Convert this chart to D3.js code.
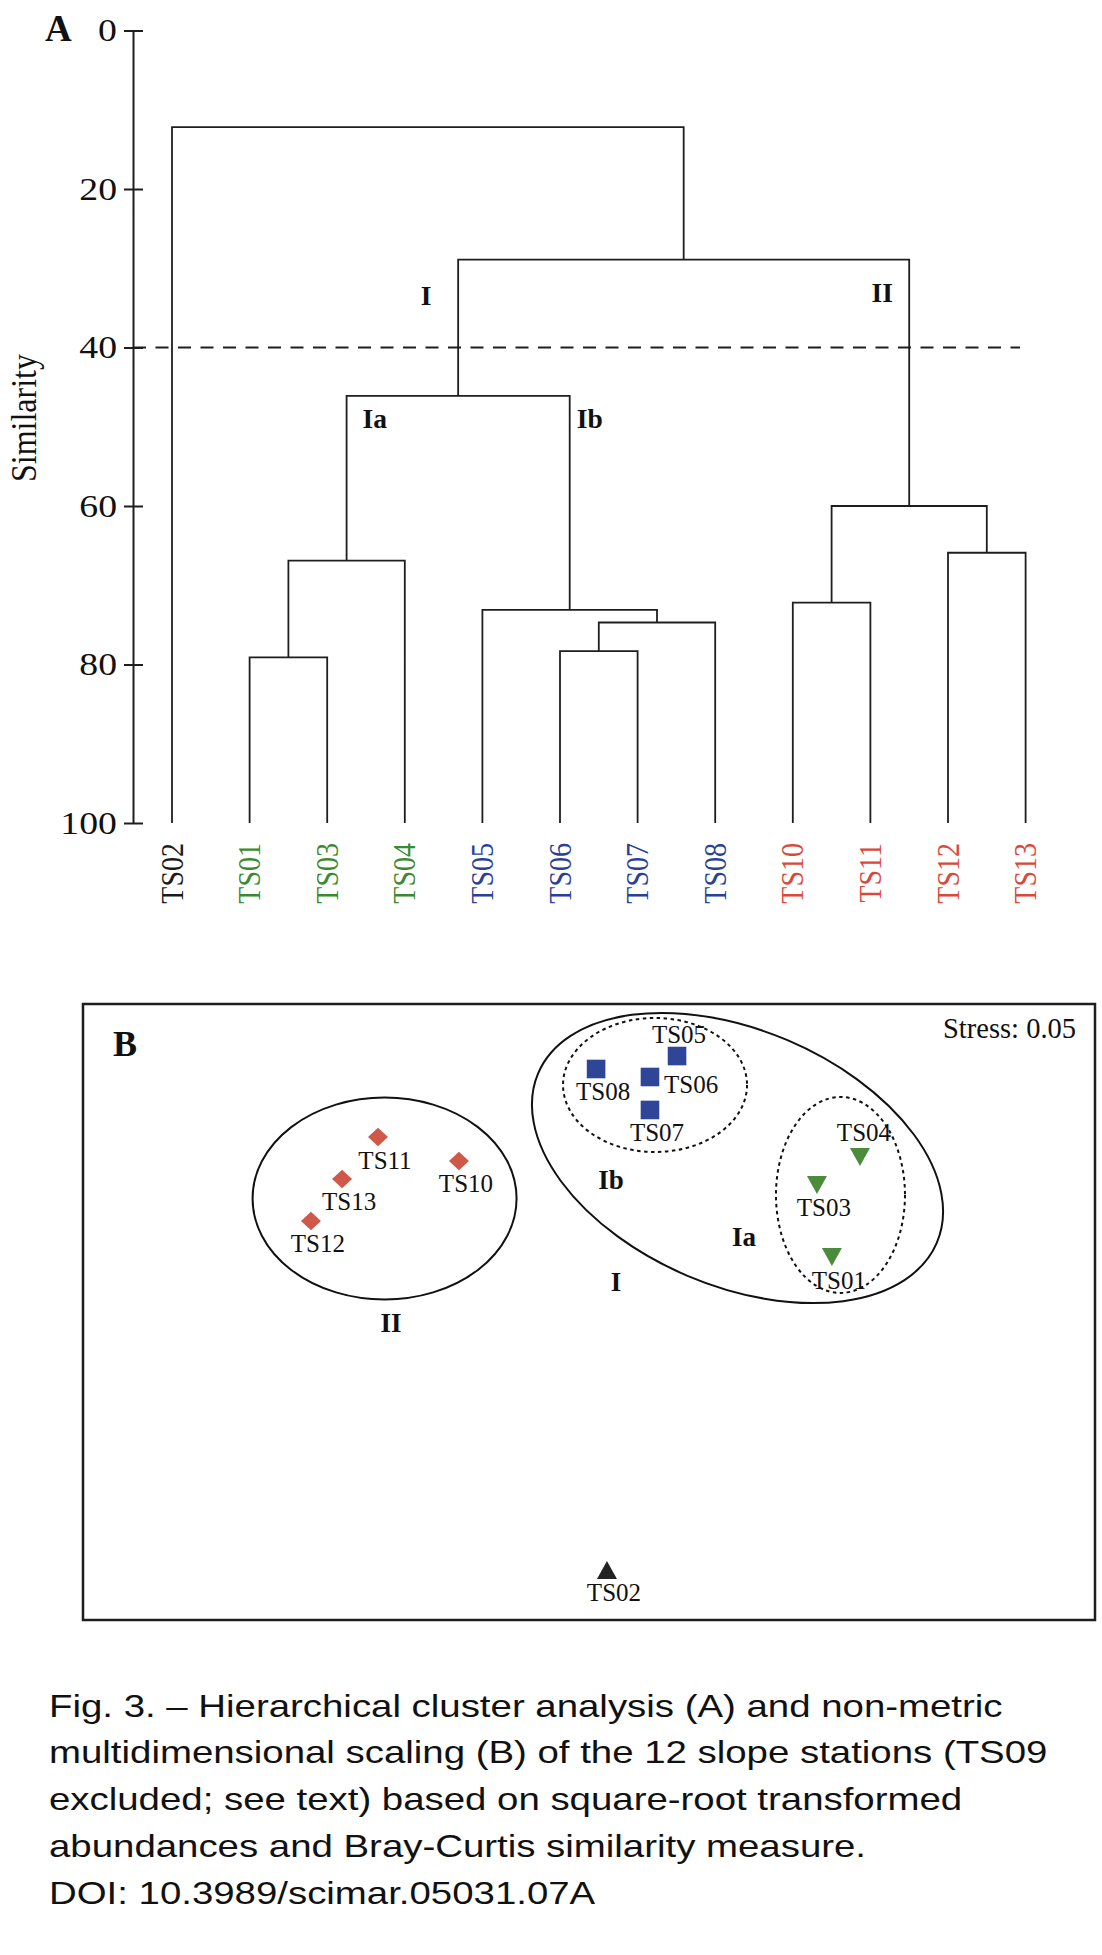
<!DOCTYPE html>
<html>
<head>
<meta charset="utf-8">
<script src="https://cdn.jsdelivr.net/npm/d3@7"></script>
<style>
  html, body { margin: 0; padding: 0; background: #fff; }
  svg { display: block; }
</style>
</head>
<body>
<svg id="chart" width="1102" height="1955"></svg>
<script>
// ---------------- DATA ----------------
// Panel A: dendrogram
const leaves = ["TS02","TS01","TS03","TS04","TS05","TS06","TS07","TS08","TS10","TS11","TS12","TS13"];
const leafGroup = ["out","Ia","Ia","Ia","Ib","Ib","Ib","Ib","II","II","II","II"];
// merges: [id, left child, right child, similarity level]
const mergeIds    = ["m1","m2","m3","m4","m5","m6","m7","m8","m9","m10","m11"];
const mergeLeft   = ["TS01","m1","TS06","m3","TS05","m2","TS10","TS12","m7","m6","TS02"];
const mergeRight  = ["TS03","TS04","TS07","TS08","m4","m5","TS11","TS13","m8","m9","m10"];
const mergeLevel  = [79.1, 66.9, 78.3, 74.7, 73.1, 46.1, 72.2, 65.9, 60.0, 28.9, 12.2];
const yTicks = [0, 20, 40, 60, 80, 100];
const cutLevel = 40;
const axisTitle = "Similarity";

// Panel B: nMDS ordination
const mdsStations = ["TS05","TS08","TS06","TS07","TS04","TS03","TS01","TS11","TS10","TS13","TS12","TS02"];
const mdsGroup    = ["Ib","Ib","Ib","Ib","Ia","Ia","Ia","II","II","II","II","out"];
const mdsX = [0.348, 0.028, 0.241, 0.241, 1.071, 0.901, 0.960, -0.834, -0.514, -0.976, -1.099, 0.071];
const mdsY = [1.662, 1.578, 1.526, 1.312, 1.006, 0.825, 0.357, 1.136, 0.981, 0.864, 0.591, -1.675];
const stressValue = "Stress: 0.05";

const captionLines = [
  "Fig. 3. \u2013 Hierarchical cluster analysis (A) and non-metric",
  "multidimensional scaling (B) of the 12 slope stations (TS09",
  "excluded; see text) based on square-root transformed",
  "abundances and Bray-Curtis similarity measure.",
  "DOI: 10.3989/scimar.05031.07A"
];

// ---------------- STYLE ----------------
const serif = "'Liberation Serif','Times New Roman',Times,serif";
const sans = "'Liberation Sans',Arial,Helvetica,sans-serif";
const groupText = { out: "#1a1a1a", Ia: "#3b8a2f", Ib: "#2a3f98", II: "#d8493b" };
const groupFill = { out: "#222222", Ia: "#4a8c3c", Ib: "#2f4597", II: "#d0584a" };
const ink = "#1e1e1e";

const svg = d3.select("#chart");

// ================= PANEL A =================
const x = d3.scalePoint().domain(leaves).range([172, 1025.6]).padding(0);
const y = d3.scaleLinear().domain([0, 100]).range([30.5, 823]);

const gA = svg.append("g");

// axis
const axis = d3.axisLeft(y).tickValues(yTicks).tickSizeOuter(0).tickSizeInner(9).tickFormat(d3.format("d"));
const ax = gA.append("g").attr("transform", "translate(133,0)").call(axis);
ax.select(".domain").attr("stroke", ink).attr("stroke-width", 2);
ax.selectAll(".tick line").attr("x1", -9).attr("x2", 10).attr("stroke", ink).attr("stroke-width", 2);
ax.selectAll(".tick text").remove();
// tick labels (slightly wide serif numerals)
gA.selectAll("text.ytick").data(yTicks).join("text")
  .attr("class", "ytick")
  .attr("transform", d => `translate(117,${y(d)}) scale(1.18,1)`)
  .attr("dy", "0.34em")
  .attr("text-anchor", "end")
  .attr("font-family", serif).attr("font-size", 32).attr("fill", "#111")
  .text(d => d);

// axis title
gA.append("text")
  .attr("transform", `translate(36,418) scale(1.1,1) rotate(-90)`)
  .attr("text-anchor", "middle")
  .attr("font-family", serif).attr("font-size", 32).attr("fill", "#111")
  .text(axisTitle);

// panel letter
gA.append("text").attr("x", 45).attr("y", 41)
  .attr("font-family", serif).attr("font-weight", "bold").attr("font-size", 37).attr("fill", "#111")
  .text("A");

// nodes
const nodes = {};
leaves.forEach(l => { nodes[l] = { x: x(l), y: y(100) }; });
mergeIds.forEach((id, i) => {
  const a = nodes[mergeLeft[i]], b = nodes[mergeRight[i]];
  nodes[id] = { x: (a.x + b.x) / 2, y: y(mergeLevel[i]) };
});

// dashed cut line
gA.append("line")
  .attr("x1", 133).attr("x2", 1020).attr("y1", y(cutLevel)).attr("y2", y(cutLevel))
  .attr("stroke", ink).attr("stroke-width", 2).attr("stroke-dasharray", "13,9.5");

// branches
gA.selectAll("path.branch").data(mergeIds).join("path")
  .attr("class", "branch")
  .attr("fill", "none").attr("stroke", ink).attr("stroke-width", 1.8)
  .attr("d", (id, i) => {
    const a = nodes[mergeLeft[i]], b = nodes[mergeRight[i]], n = nodes[id];
    return `M${a.x},${a.y}V${n.y}H${b.x}V${b.y}`;
  });

// leaf labels (rotated)
gA.selectAll("text.leaf").data(leaves).join("text")
  .attr("class", "leaf")
  .attr("transform", d => `translate(${x(d)},843) scale(1.15,1) rotate(-90)`)
  .attr("dy", "0.33em")
  .attr("text-anchor", "end")
  .attr("font-family", serif).attr("font-size", 28)
  .attr("fill", (d, i) => groupText[leafGroup[i]])
  .text(d => d);

// cluster labels
const clusterLabelsA = [
  { t: "I",  x: nodes.m6.x - 32, lvl: 34.7, anchor: "middle" },
  { t: "II", x: nodes.m9.x - 27, lvl: 34.2, anchor: "middle" },
  { t: "Ia", x: nodes.m2.x + 16, lvl: 50.1, anchor: "start" },
  { t: "Ib", x: nodes.m5.x + 7,  lvl: 50.1, anchor: "start" }
];
gA.selectAll("text.clA").data(clusterLabelsA).join("text")
  .attr("class", "clA")
  .attr("x", d => d.x).attr("y", d => y(d.lvl))
  .attr("text-anchor", d => d.anchor)
  .attr("font-family", serif).attr("font-weight", "bold").attr("font-size", 27.5).attr("fill", "#111")
  .text(d => d.t);

// ================= PANEL B =================
const xB = d3.scaleLinear().domain([-2, 2]).range([83, 1095]);
const yB = d3.scaleLinear().domain([-2, 2]).range([1620, 1004]);
const gB = svg.append("g");

gB.append("rect")
  .attr("x", xB(-2)).attr("y", yB(2))
  .attr("width", xB(2) - xB(-2)).attr("height", yB(-2) - yB(2))
  .attr("fill", "none").attr("stroke", ink).attr("stroke-width", 2.5);

gB.append("text").attr("x", 113).attr("y", 1056)
  .attr("font-family", serif).attr("font-weight", "bold").attr("font-size", 36).attr("fill", "#111")
  .text("B");

gB.append("text").attr("x", 943).attr("y", 1038)
  .attr("font-family", serif).attr("font-size", 28.5).attr("fill", "#111")
  .text(stressValue);

// grouping ellipses (centre in MDS units, radii in px)
const hulls = [
  { cx: -0.808, cy: 0.737, rx: 132, ry: 101, rot: 0,  dash: null },
  { cx: 0.587,  cy: 1.000, rx: 216.6, ry: 128, rot: 23, dash: null },
  { cx: 0.261,  cy: 1.474, rx: 92,  ry: 67,  rot: 0,  dash: "3.5,3.5" },
  { cx: 0.994,  cy: 0.760, rx: 64.5, ry: 98, rot: 0,  dash: "3.5,3.5" }
];
gB.selectAll("ellipse.hull").data(hulls).join("ellipse")
  .attr("class", "hull")
  .attr("cx", 0).attr("cy", 0).attr("rx", d => d.rx).attr("ry", d => d.ry)
  .attr("transform", d => `translate(${xB(d.cx)},${yB(d.cy)}) rotate(${d.rot})`)
  .attr("fill", "none").attr("stroke", "#111").attr("stroke-width", 2)
  .attr("stroke-dasharray", d => d.dash);

// marker shapes
function markerPath(g) {
  if (g === "Ib") { const s = 9.3; return `M${-s},${-s}H${s}V${s}H${-s}Z`; }
  if (g === "II") { return "M0,-9.2L10,0L0,9.2L-10,0Z"; }
  if (g === "Ia") { return "M-10,-9H10L0,9Z"; }
  return "M0,-9L10,9H-10Z";
}
gB.selectAll("path.pt").data(mdsStations).join("path")
  .attr("class", "pt")
  .attr("transform", (d, i) => `translate(${xB(mdsX[i])},${yB(mdsY[i])})`)
  .attr("d", (d, i) => markerPath(mdsGroup[i]))
  .attr("fill", (d, i) => groupFill[mdsGroup[i]]);

// point labels: placement
const place = { TS05: [2, -13, "middle"], TS06: [14, 16, "start"], TS04: [4, -16, "middle"] };
gB.selectAll("text.ptl").data(mdsStations).join("text")
  .attr("class", "ptl")
  .attr("x", (d, i) => xB(mdsX[i]) + (place[d] ? place[d][0] : 7))
  .attr("y", (d, i) => yB(mdsY[i]) + (place[d] ? place[d][1] : 31.5))
  .attr("text-anchor", d => place[d] ? place[d][2] : "middle")
  .attr("font-family", serif).attr("font-size", 25).attr("fill", "#111")
  .text(d => d);

const clusterLabelsB = [
  { t: "Ib", x: 611, y: 1189 },
  { t: "Ia", x: 744, y: 1246 },
  { t: "I",  x: 616, y: 1291 },
  { t: "II", x: 391, y: 1332 }
];
gB.selectAll("text.clB").data(clusterLabelsB).join("text")
  .attr("class", "clB")
  .attr("x", d => d.x).attr("y", d => d.y)
  .attr("text-anchor", "middle")
  .attr("font-family", serif).attr("font-weight", "bold").attr("font-size", 27).attr("fill", "#111")
  .text(d => d.t);

// ================= CAPTION =================
svg.append("g").selectAll("text").data(captionLines).join("text")
  .attr("transform", (d, i) => `translate(49,${1716.7 + i * 46.7}) scale(1.2,1)`)
  .attr("font-family", sans).attr("font-size", 32).attr("fill", "#111")
  .text(d => d);
</script>
</body>
</html>
